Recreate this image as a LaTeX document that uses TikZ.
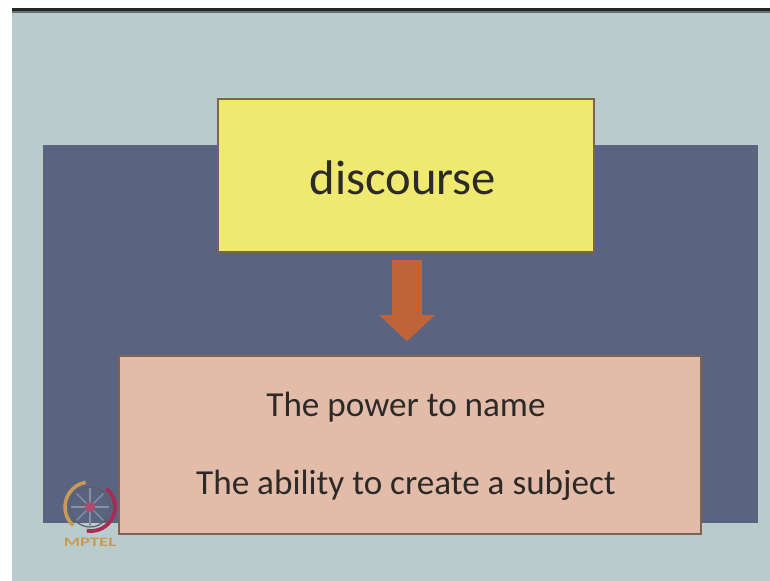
\documentclass[tikz,border=0pt]{standalone}
\usepackage{fontspec}
\setmainfont{Carlito}
\usetikzlibrary{arrows.meta}
\definecolor{slidebg}{HTML}{B9CBCA}
\definecolor{panelblue}{HTML}{5A6480}
\definecolor{boxyellow}{HTML}{EFE96F}
\definecolor{boxpink}{HTML}{E3BCA9}
\definecolor{boxedge}{HTML}{7D6353}
\definecolor{arrowbrown}{HTML}{BF6338}
\definecolor{logoorange}{HTML}{C99A55}
\definecolor{logored}{HTML}{A82A55}
\definecolor{wheelgrey}{HTML}{8791A3}
\definecolor{slidetext}{HTML}{2C2A28}
\tikzset{
  slidebox/.style={draw=boxedge,line width=1.5pt,inner sep=0pt,anchor=south west},
  slidetitle/.style={text=slidetext,font=\fontsize{41.5}{44}\selectfont},
  slideline/.style={text=slidetext,font=\fontsize{30}{34}\selectfont},
  blockarrow/.style={draw=arrowbrown,line width=0.9cm,
    -{Triangle[length=0.78cm,width=1.62cm]},shorten <=0.21cm,shorten >=0.42cm},
}
\begin{document}
\begin{tikzpicture}[x=0.03cm,y=0.03cm]
  \useasboundingbox (0,0) rectangle (770,581);
  \fill[white] (0,0) rectangle (770,581);
  \fill[slidebg] (12,0) rectangle (770,571);
  \fill[black!45!slidebg] (12,568) rectangle (770,571);
  \fill[black!85] (12,570) rectangle (770,573);

  %% panel
  \fill[panelblue] (43,58) rectangle (758,436);

  %% boxes
  \node (discourse) [slidebox,fill=boxyellow,minimum width=11.28cm,minimum height=4.59cm]
    at (217,328) {};
  \node (power) [slidebox,fill=boxpink,minimum width=17.46cm,minimum height=5.34cm]
    at (118,46) {};

  %% arrow
  \draw[blockarrow] ([xshift=1pt]discourse.south) -- ([xshift=1pt]discourse.south |- power.north);

  %% text
  \node (title) [slidetitle] at (403,403) {discourse};
  \node (name) [slideline] at (406,174) {The power to name};
  \node (subject) [slideline] at (406,96) {The ability to create a subject};

  %% logo
  \draw[black!35!wheelgrey,line width=1pt] (90,74) circle (20);
  \foreach \a in {0,45,...,315} {
    \draw[wheelgrey,line width=1pt] (90,74) -- ++(\a:19);
  }
  \fill[logored!85] (90,74) circle (5);
  \draw[logoorange,line width=3pt] (90,74) ++(100:25) arc (100:228:25);
  \draw[logored,line width=3.2pt] (91,74) ++(50:24) arc (50:-100:24);
  \node (logotext) [xscale=1.45,transform shape,text=logoorange,font=\fontsize{11}{12}\selectfont\bfseries]
    at (90,39) {MPTEL};
\end{tikzpicture}
\end{document}
